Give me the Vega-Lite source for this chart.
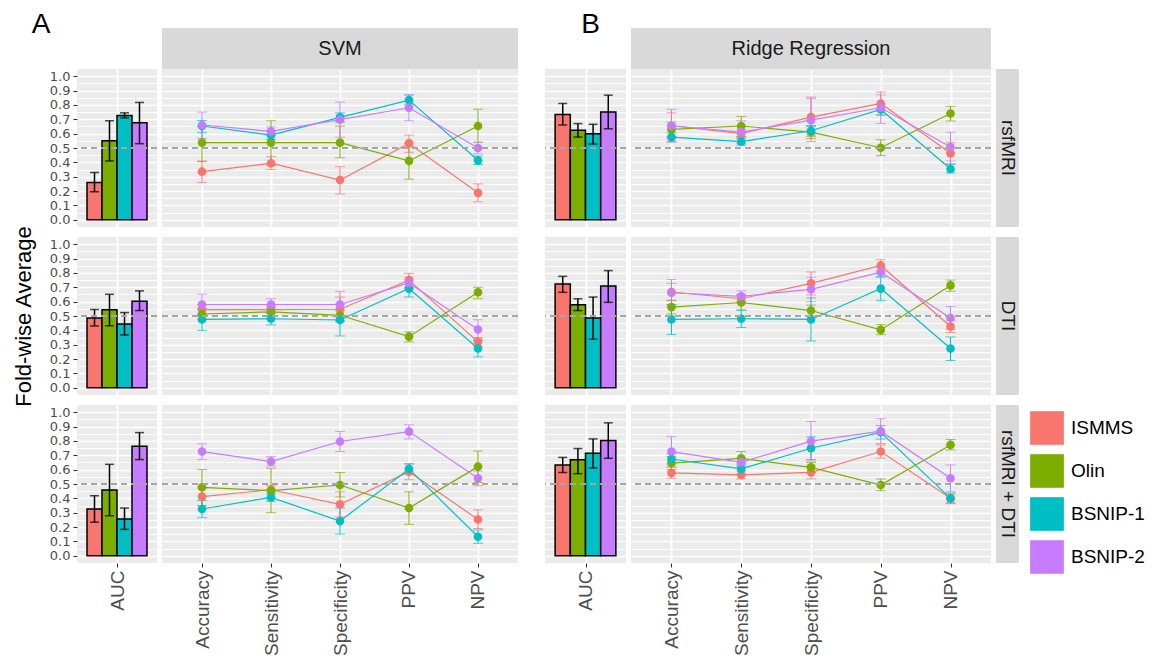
{
"$schema": "https://vega.github.io/schema/vega-lite/v6.json",
"background": "white",
"padding": {"left": 12, "top": 10, "right": 5, "bottom": 5},
"config": {
  "font": "Liberation Sans",
  "view": {"stroke": null},
  "axis": {"grid": true, "gridColor": "#ffffff", "domain": false, "tickColor": "#333333", "tickSize": 4, "tickWidth": 1.1, "labelColor": "#4d4d4d", "labelPadding": 3, "labelFont": "Liberation Sans", "titleFont": "Liberation Sans"},
  "axisY": {"labelFontSize": 13, "labelFont": "DejaVu Sans", "labelOverlap": false, "labelFlush": false, "titleFontSize": 22, "titleFontWeight": "normal", "titleColor": "#000000", "titlePadding": 14},
  "axisX": {"labelFontSize": 19, "labelAngle": 270, "labelOverlap": false, "labelFlush": false}
},
"datasets": {
"auc": [
{"m":"SVM","d":"rsfMRI","s":"ISMMS","k":"AUC","v":0.26,"lo":0.195,"hi":0.33},
{"m":"SVM","d":"rsfMRI","s":"Olin","k":"AUC","v":0.55,"lo":0.41,"hi":0.69},
{"m":"SVM","d":"rsfMRI","s":"BSNIP-1","k":"AUC","v":0.727,"lo":0.71,"hi":0.745},
{"m":"SVM","d":"rsfMRI","s":"BSNIP-2","k":"AUC","v":0.676,"lo":0.53,"hi":0.817},
{"m":"SVM","d":"DTI","s":"ISMMS","k":"AUC","v":0.486,"lo":0.43,"hi":0.545},
{"m":"SVM","d":"DTI","s":"Olin","k":"AUC","v":0.543,"lo":0.432,"hi":0.651},
{"m":"SVM","d":"DTI","s":"BSNIP-1","k":"AUC","v":0.444,"lo":0.368,"hi":0.524},
{"m":"SVM","d":"DTI","s":"BSNIP-2","k":"AUC","v":0.602,"lo":0.538,"hi":0.675},
{"m":"SVM","d":"rsfMRI + DTI","s":"ISMMS","k":"AUC","v":0.326,"lo":0.233,"hi":0.419},
{"m":"SVM","d":"rsfMRI + DTI","s":"Olin","k":"AUC","v":0.458,"lo":0.279,"hi":0.637},
{"m":"SVM","d":"rsfMRI + DTI","s":"BSNIP-1","k":"AUC","v":0.256,"lo":0.184,"hi":0.333},
{"m":"SVM","d":"rsfMRI + DTI","s":"BSNIP-2","k":"AUC","v":0.763,"lo":0.67,"hi":0.858},
{"m":"Ridge","d":"rsfMRI","s":"ISMMS","k":"AUC","v":0.734,"lo":0.66,"hi":0.81},
{"m":"Ridge","d":"rsfMRI","s":"Olin","k":"AUC","v":0.623,"lo":0.576,"hi":0.67},
{"m":"Ridge","d":"rsfMRI","s":"BSNIP-1","k":"AUC","v":0.6,"lo":0.528,"hi":0.665},
{"m":"Ridge","d":"rsfMRI","s":"BSNIP-2","k":"AUC","v":0.75,"lo":0.634,"hi":0.868},
{"m":"Ridge","d":"DTI","s":"ISMMS","k":"AUC","v":0.722,"lo":0.665,"hi":0.776},
{"m":"Ridge","d":"DTI","s":"Olin","k":"AUC","v":0.578,"lo":0.538,"hi":0.62},
{"m":"Ridge","d":"DTI","s":"BSNIP-1","k":"AUC","v":0.486,"lo":0.338,"hi":0.632},
{"m":"Ridge","d":"DTI","s":"BSNIP-2","k":"AUC","v":0.708,"lo":0.595,"hi":0.816},
{"m":"Ridge","d":"rsfMRI + DTI","s":"ISMMS","k":"AUC","v":0.633,"lo":0.58,"hi":0.685},
{"m":"Ridge","d":"rsfMRI + DTI","s":"Olin","k":"AUC","v":0.668,"lo":0.572,"hi":0.747},
{"m":"Ridge","d":"rsfMRI + DTI","s":"BSNIP-1","k":"AUC","v":0.714,"lo":0.612,"hi":0.814},
{"m":"Ridge","d":"rsfMRI + DTI","s":"BSNIP-2","k":"AUC","v":0.802,"lo":0.679,"hi":0.926}
],
"met": [
{"m":"SVM","d":"rsfMRI","s":"ISMMS","k":"Accuracy","v":0.335,"lo":0.26,"hi":0.41},
{"m":"SVM","d":"rsfMRI","s":"Olin","k":"Accuracy","v":0.537,"lo":0.405,"hi":0.65},
{"m":"SVM","d":"rsfMRI","s":"BSNIP-1","k":"Accuracy","v":0.653,"lo":0.609,"hi":0.692},
{"m":"SVM","d":"rsfMRI","s":"BSNIP-2","k":"Accuracy","v":0.66,"lo":0.567,"hi":0.75},
{"m":"SVM","d":"rsfMRI","s":"ISMMS","k":"Sensitivity","v":0.394,"lo":0.35,"hi":0.44},
{"m":"SVM","d":"rsfMRI","s":"Olin","k":"Sensitivity","v":0.537,"lo":0.38,"hi":0.69},
{"m":"SVM","d":"rsfMRI","s":"BSNIP-1","k":"Sensitivity","v":0.59,"lo":0.56,"hi":0.62},
{"m":"SVM","d":"rsfMRI","s":"BSNIP-2","k":"Sensitivity","v":0.616,"lo":0.585,"hi":0.647},
{"m":"SVM","d":"rsfMRI","s":"ISMMS","k":"Specificity","v":0.277,"lo":0.18,"hi":0.37},
{"m":"SVM","d":"rsfMRI","s":"Olin","k":"Specificity","v":0.537,"lo":0.432,"hi":0.652},
{"m":"SVM","d":"rsfMRI","s":"BSNIP-1","k":"Specificity","v":0.713,"lo":0.68,"hi":0.745},
{"m":"SVM","d":"rsfMRI","s":"BSNIP-2","k":"Specificity","v":0.697,"lo":0.575,"hi":0.82},
{"m":"SVM","d":"rsfMRI","s":"ISMMS","k":"PPV","v":0.532,"lo":0.47,"hi":0.59},
{"m":"SVM","d":"rsfMRI","s":"Olin","k":"PPV","v":0.41,"lo":0.283,"hi":0.535},
{"m":"SVM","d":"rsfMRI","s":"BSNIP-1","k":"PPV","v":0.833,"lo":0.8,"hi":0.87},
{"m":"SVM","d":"rsfMRI","s":"BSNIP-2","k":"PPV","v":0.78,"lo":0.69,"hi":0.87},
{"m":"SVM","d":"rsfMRI","s":"ISMMS","k":"NPV","v":0.188,"lo":0.125,"hi":0.25},
{"m":"SVM","d":"rsfMRI","s":"Olin","k":"NPV","v":0.653,"lo":0.54,"hi":0.77},
{"m":"SVM","d":"rsfMRI","s":"BSNIP-1","k":"NPV","v":0.415,"lo":0.385,"hi":0.445},
{"m":"SVM","d":"rsfMRI","s":"BSNIP-2","k":"NPV","v":0.5,"lo":0.46,"hi":0.54},
{"m":"SVM","d":"DTI","s":"ISMMS","k":"Accuracy","v":0.545,"lo":0.51,"hi":0.58},
{"m":"SVM","d":"DTI","s":"Olin","k":"Accuracy","v":0.514,"lo":0.48,"hi":0.55},
{"m":"SVM","d":"DTI","s":"BSNIP-1","k":"Accuracy","v":0.476,"lo":0.4,"hi":0.55},
{"m":"SVM","d":"DTI","s":"BSNIP-2","k":"Accuracy","v":0.58,"lo":0.51,"hi":0.652},
{"m":"SVM","d":"DTI","s":"ISMMS","k":"Sensitivity","v":0.545,"lo":0.52,"hi":0.57},
{"m":"SVM","d":"DTI","s":"Olin","k":"Sensitivity","v":0.529,"lo":0.5,"hi":0.56},
{"m":"SVM","d":"DTI","s":"BSNIP-1","k":"Sensitivity","v":0.481,"lo":0.438,"hi":0.52},
{"m":"SVM","d":"DTI","s":"BSNIP-2","k":"Sensitivity","v":0.58,"lo":0.54,"hi":0.62},
{"m":"SVM","d":"DTI","s":"ISMMS","k":"Specificity","v":0.547,"lo":0.46,"hi":0.632},
{"m":"SVM","d":"DTI","s":"Olin","k":"Specificity","v":0.505,"lo":0.47,"hi":0.54},
{"m":"SVM","d":"DTI","s":"BSNIP-1","k":"Specificity","v":0.472,"lo":0.361,"hi":0.583},
{"m":"SVM","d":"DTI","s":"BSNIP-2","k":"Specificity","v":0.58,"lo":0.49,"hi":0.672},
{"m":"SVM","d":"DTI","s":"ISMMS","k":"PPV","v":0.75,"lo":0.7,"hi":0.797},
{"m":"SVM","d":"DTI","s":"Olin","k":"PPV","v":0.356,"lo":0.32,"hi":0.39},
{"m":"SVM","d":"DTI","s":"BSNIP-1","k":"PPV","v":0.691,"lo":0.632,"hi":0.75},
{"m":"SVM","d":"DTI","s":"BSNIP-2","k":"PPV","v":0.73,"lo":0.69,"hi":0.77},
{"m":"SVM","d":"DTI","s":"ISMMS","k":"NPV","v":0.32,"lo":0.29,"hi":0.35},
{"m":"SVM","d":"DTI","s":"Olin","k":"NPV","v":0.665,"lo":0.62,"hi":0.7},
{"m":"SVM","d":"DTI","s":"BSNIP-1","k":"NPV","v":0.274,"lo":0.215,"hi":0.33},
{"m":"SVM","d":"DTI","s":"BSNIP-2","k":"NPV","v":0.406,"lo":0.34,"hi":0.474},
{"m":"SVM","d":"rsfMRI + DTI","s":"ISMMS","k":"Accuracy","v":0.412,"lo":0.35,"hi":0.47},
{"m":"SVM","d":"rsfMRI + DTI","s":"Olin","k":"Accuracy","v":0.477,"lo":0.349,"hi":0.6},
{"m":"SVM","d":"rsfMRI + DTI","s":"BSNIP-1","k":"Accuracy","v":0.326,"lo":0.265,"hi":0.385},
{"m":"SVM","d":"rsfMRI + DTI","s":"BSNIP-2","k":"Accuracy","v":0.726,"lo":0.67,"hi":0.78},
{"m":"SVM","d":"rsfMRI + DTI","s":"ISMMS","k":"Sensitivity","v":0.46,"lo":0.43,"hi":0.49},
{"m":"SVM","d":"rsfMRI + DTI","s":"Olin","k":"Sensitivity","v":0.454,"lo":0.3,"hi":0.61},
{"m":"SVM","d":"rsfMRI + DTI","s":"BSNIP-1","k":"Sensitivity","v":0.407,"lo":0.38,"hi":0.44},
{"m":"SVM","d":"rsfMRI + DTI","s":"BSNIP-2","k":"Sensitivity","v":0.656,"lo":0.625,"hi":0.69},
{"m":"SVM","d":"rsfMRI + DTI","s":"ISMMS","k":"Specificity","v":0.358,"lo":0.27,"hi":0.446},
{"m":"SVM","d":"rsfMRI + DTI","s":"Olin","k":"Specificity","v":0.493,"lo":0.41,"hi":0.58},
{"m":"SVM","d":"rsfMRI + DTI","s":"BSNIP-1","k":"Specificity","v":0.242,"lo":0.151,"hi":0.333},
{"m":"SVM","d":"rsfMRI + DTI","s":"BSNIP-2","k":"Specificity","v":0.796,"lo":0.726,"hi":0.866},
{"m":"SVM","d":"rsfMRI + DTI","s":"ISMMS","k":"PPV","v":0.586,"lo":0.53,"hi":0.64},
{"m":"SVM","d":"rsfMRI + DTI","s":"Olin","k":"PPV","v":0.333,"lo":0.219,"hi":0.446},
{"m":"SVM","d":"rsfMRI + DTI","s":"BSNIP-1","k":"PPV","v":0.605,"lo":0.57,"hi":0.64},
{"m":"SVM","d":"rsfMRI + DTI","s":"BSNIP-2","k":"PPV","v":0.865,"lo":0.814,"hi":0.912},
{"m":"SVM","d":"rsfMRI + DTI","s":"ISMMS","k":"NPV","v":0.253,"lo":0.19,"hi":0.32},
{"m":"SVM","d":"rsfMRI + DTI","s":"Olin","k":"NPV","v":0.621,"lo":0.51,"hi":0.73},
{"m":"SVM","d":"rsfMRI + DTI","s":"BSNIP-1","k":"NPV","v":0.133,"lo":0.087,"hi":0.18},
{"m":"SVM","d":"rsfMRI + DTI","s":"BSNIP-2","k":"NPV","v":0.54,"lo":0.488,"hi":0.59},
{"m":"Ridge","d":"rsfMRI","s":"ISMMS","k":"Accuracy","v":0.655,"lo":0.565,"hi":0.745},
{"m":"Ridge","d":"rsfMRI","s":"Olin","k":"Accuracy","v":0.63,"lo":0.58,"hi":0.68},
{"m":"Ridge","d":"rsfMRI","s":"BSNIP-1","k":"Accuracy","v":0.576,"lo":0.545,"hi":0.606},
{"m":"Ridge","d":"rsfMRI","s":"BSNIP-2","k":"Accuracy","v":0.655,"lo":0.54,"hi":0.77},
{"m":"Ridge","d":"rsfMRI","s":"ISMMS","k":"Sensitivity","v":0.6,"lo":0.57,"hi":0.63},
{"m":"Ridge","d":"rsfMRI","s":"Olin","k":"Sensitivity","v":0.653,"lo":0.58,"hi":0.72},
{"m":"Ridge","d":"rsfMRI","s":"BSNIP-1","k":"Sensitivity","v":0.544,"lo":0.52,"hi":0.57},
{"m":"Ridge","d":"rsfMRI","s":"BSNIP-2","k":"Sensitivity","v":0.61,"lo":0.53,"hi":0.69},
{"m":"Ridge","d":"rsfMRI","s":"ISMMS","k":"Specificity","v":0.715,"lo":0.58,"hi":0.855},
{"m":"Ridge","d":"rsfMRI","s":"Olin","k":"Specificity","v":0.611,"lo":0.565,"hi":0.657},
{"m":"Ridge","d":"rsfMRI","s":"BSNIP-1","k":"Specificity","v":0.62,"lo":0.59,"hi":0.65},
{"m":"Ridge","d":"rsfMRI","s":"BSNIP-2","k":"Specificity","v":0.694,"lo":0.545,"hi":0.845},
{"m":"Ridge","d":"rsfMRI","s":"ISMMS","k":"PPV","v":0.81,"lo":0.73,"hi":0.89},
{"m":"Ridge","d":"rsfMRI","s":"Olin","k":"PPV","v":0.502,"lo":0.447,"hi":0.557},
{"m":"Ridge","d":"rsfMRI","s":"BSNIP-1","k":"PPV","v":0.768,"lo":0.73,"hi":0.805},
{"m":"Ridge","d":"rsfMRI","s":"BSNIP-2","k":"PPV","v":0.78,"lo":0.671,"hi":0.87},
{"m":"Ridge","d":"rsfMRI","s":"ISMMS","k":"NPV","v":0.463,"lo":0.39,"hi":0.54},
{"m":"Ridge","d":"rsfMRI","s":"Olin","k":"NPV","v":0.74,"lo":0.688,"hi":0.79},
{"m":"Ridge","d":"rsfMRI","s":"BSNIP-1","k":"NPV","v":0.354,"lo":0.326,"hi":0.387},
{"m":"Ridge","d":"rsfMRI","s":"BSNIP-2","k":"NPV","v":0.507,"lo":0.41,"hi":0.61},
{"m":"Ridge","d":"DTI","s":"ISMMS","k":"Accuracy","v":0.667,"lo":0.607,"hi":0.727},
{"m":"Ridge","d":"DTI","s":"Olin","k":"Accuracy","v":0.562,"lo":0.515,"hi":0.61},
{"m":"Ridge","d":"DTI","s":"BSNIP-1","k":"Accuracy","v":0.476,"lo":0.372,"hi":0.58},
{"m":"Ridge","d":"DTI","s":"BSNIP-2","k":"Accuracy","v":0.662,"lo":0.57,"hi":0.754},
{"m":"Ridge","d":"DTI","s":"ISMMS","k":"Sensitivity","v":0.62,"lo":0.59,"hi":0.65},
{"m":"Ridge","d":"DTI","s":"Olin","k":"Sensitivity","v":0.594,"lo":0.542,"hi":0.646},
{"m":"Ridge","d":"DTI","s":"BSNIP-1","k":"Sensitivity","v":0.481,"lo":0.42,"hi":0.54},
{"m":"Ridge","d":"DTI","s":"BSNIP-2","k":"Sensitivity","v":0.637,"lo":0.6,"hi":0.675},
{"m":"Ridge","d":"DTI","s":"ISMMS","k":"Specificity","v":0.727,"lo":0.647,"hi":0.807},
{"m":"Ridge","d":"DTI","s":"Olin","k":"Specificity","v":0.538,"lo":0.5,"hi":0.576},
{"m":"Ridge","d":"DTI","s":"BSNIP-1","k":"Specificity","v":0.476,"lo":0.326,"hi":0.626},
{"m":"Ridge","d":"DTI","s":"BSNIP-2","k":"Specificity","v":0.686,"lo":0.6,"hi":0.77},
{"m":"Ridge","d":"DTI","s":"ISMMS","k":"PPV","v":0.852,"lo":0.812,"hi":0.892},
{"m":"Ridge","d":"DTI","s":"Olin","k":"PPV","v":0.403,"lo":0.37,"hi":0.44},
{"m":"Ridge","d":"DTI","s":"BSNIP-1","k":"PPV","v":0.691,"lo":0.609,"hi":0.773},
{"m":"Ridge","d":"DTI","s":"BSNIP-2","k":"PPV","v":0.805,"lo":0.77,"hi":0.84},
{"m":"Ridge","d":"DTI","s":"ISMMS","k":"NPV","v":0.427,"lo":0.385,"hi":0.47},
{"m":"Ridge","d":"DTI","s":"Olin","k":"NPV","v":0.713,"lo":0.672,"hi":0.75},
{"m":"Ridge","d":"DTI","s":"BSNIP-1","k":"NPV","v":0.274,"lo":0.19,"hi":0.354},
{"m":"Ridge","d":"DTI","s":"BSNIP-2","k":"NPV","v":0.486,"lo":0.406,"hi":0.566},
{"m":"Ridge","d":"rsfMRI + DTI","s":"ISMMS","k":"Accuracy","v":0.577,"lo":0.54,"hi":0.617},
{"m":"Ridge","d":"rsfMRI + DTI","s":"Olin","k":"Accuracy","v":0.646,"lo":0.6,"hi":0.69},
{"m":"Ridge","d":"rsfMRI + DTI","s":"BSNIP-1","k":"Accuracy","v":0.674,"lo":0.64,"hi":0.71},
{"m":"Ridge","d":"rsfMRI + DTI","s":"BSNIP-2","k":"Accuracy","v":0.726,"lo":0.62,"hi":0.83},
{"m":"Ridge","d":"rsfMRI + DTI","s":"ISMMS","k":"Sensitivity","v":0.563,"lo":0.535,"hi":0.59},
{"m":"Ridge","d":"rsfMRI + DTI","s":"Olin","k":"Sensitivity","v":0.678,"lo":0.63,"hi":0.726},
{"m":"Ridge","d":"rsfMRI + DTI","s":"BSNIP-1","k":"Sensitivity","v":0.605,"lo":0.57,"hi":0.64},
{"m":"Ridge","d":"rsfMRI + DTI","s":"BSNIP-2","k":"Sensitivity","v":0.651,"lo":0.62,"hi":0.68},
{"m":"Ridge","d":"rsfMRI + DTI","s":"ISMMS","k":"Specificity","v":0.581,"lo":0.535,"hi":0.627},
{"m":"Ridge","d":"rsfMRI + DTI","s":"Olin","k":"Specificity","v":0.616,"lo":0.58,"hi":0.65},
{"m":"Ridge","d":"rsfMRI + DTI","s":"BSNIP-1","k":"Specificity","v":0.749,"lo":0.67,"hi":0.828},
{"m":"Ridge","d":"rsfMRI + DTI","s":"BSNIP-2","k":"Specificity","v":0.798,"lo":0.66,"hi":0.935},
{"m":"Ridge","d":"rsfMRI + DTI","s":"ISMMS","k":"PPV","v":0.726,"lo":0.68,"hi":0.772},
{"m":"Ridge","d":"rsfMRI + DTI","s":"Olin","k":"PPV","v":0.493,"lo":0.453,"hi":0.535},
{"m":"Ridge","d":"rsfMRI + DTI","s":"BSNIP-1","k":"PPV","v":0.86,"lo":0.813,"hi":0.907},
{"m":"Ridge","d":"rsfMRI + DTI","s":"BSNIP-2","k":"PPV","v":0.868,"lo":0.782,"hi":0.954},
{"m":"Ridge","d":"rsfMRI + DTI","s":"ISMMS","k":"NPV","v":0.4,"lo":0.37,"hi":0.43},
{"m":"Ridge","d":"rsfMRI + DTI","s":"Olin","k":"NPV","v":0.772,"lo":0.737,"hi":0.81},
{"m":"Ridge","d":"rsfMRI + DTI","s":"BSNIP-1","k":"NPV","v":0.4,"lo":0.363,"hi":0.437},
{"m":"Ridge","d":"rsfMRI + DTI","s":"BSNIP-2","k":"NPV","v":0.54,"lo":0.447,"hi":0.633}
]
},
"columns": 6,
"spacing": {"row": 0, "column": 5},
"bounds": "flush",
"align": "each",
"concat": [
 {"width": 80, "height": 41, "data": {"values": [{"t": "A"}]}, "mark": {"type": "text", "fontSize": 28, "color": "#000000", "dx": -76, "dy": -24}, "encoding": {"text": {"field": "t"}}},
 {"width": 356, "height": 41, "view": {"fill": "#d9d9d9", "stroke": null}, "data": {"values": [{"t": "SVM"}]}, "mark": {"type": "text", "fontSize": 20, "color": "#1a1a1a"}, "encoding": {"text": {"field": "t"}}},
 {"width": 17, "height": 1, "data": {"values": [{}]}, "mark": {"type": "point", "opacity": 0}, "encoding": {}},
 {"width": 81, "height": 41, "data": {"values": [{"t": "B"}]}, "mark": {"type": "text", "fontSize": 28, "color": "#000000", "dx": 5, "dy": -24}, "encoding": {"text": {"field": "t"}}},
 {"width": 360, "height": 41, "view": {"fill": "#d9d9d9", "stroke": null}, "data": {"values": [{"t": "Ridge Regression"}]}, "mark": {"type": "text", "fontSize": 20, "color": "#1a1a1a"}, "encoding": {"text": {"field": "t"}}},
 {"width": 23, "height": 1, "data": {"values": [{}]}, "mark": {"type": "point", "opacity": 0}, "encoding": {}},

 {"width": 80, "height": 158, "view": {"fill": "#ebebeb", "stroke": null}, "data": {"name": "auc"},
  "transform": [{"filter": "datum.m==='SVM' && datum.d==='rsfMRI'"}],
  "layer": [
   {"mark": {"type": "rule", "opacity": 0}, "encoding": {"x": {"field": "k", "type": "nominal", "scale": {"type": "point", "padding": 0.5}, "axis": {"title": null, "labels": false, "ticks": false, "gridWidth": 1.8}}}},
   {"layer": [
     {"mark": {"type": "bar", "stroke": "black", "strokeWidth": 1.5},
      "encoding": {"x": {"field": "s", "type": "nominal", "sort": ["ISMMS","Olin","BSNIP-1","BSNIP-2"], "scale": {"type": "band", "paddingInner": 0, "paddingOuter": 0.667}, "axis": null},
        "y": {"field": "v", "type": "quantitative", "scale": {"domain": [-0.05, 1.05], "nice": false, "zero": false}, "axis": {"values": [0,0.05,0.1,0.15,0.2,0.25,0.3,0.35,0.4,0.45,0.5,0.55,0.6,0.65,0.7,0.75,0.8,0.85,0.9,0.95,1], "tickCount": 22, "labelOverlap": false, "labelExpr": "round(datum.value*100) % 10 === 0 && datum.value > -0.01 && datum.value < 1.01 ? format(datum.value, '.1f') : ''", "tickOpacity": {"condition": {"test": "round(datum.value*100) % 10 === 0 && datum.value > -0.01 && datum.value < 1.01", "value": 1}, "value": 0}, "gridOpacity": {"condition": {"test": "datum.value < -0.01 || datum.value > 1.01", "value": 0}, "value": 1}, "gridWidth": {"condition": {"test": "round(datum.value*100) % 10 === 0", "value": 1.6}, "value": 1}, "title": null}},
        "color": {"field": "s", "type": "nominal", "scale": {"domain": ["ISMMS","Olin","BSNIP-1","BSNIP-2"], "range": ["#F8766D","#7CAE00","#00BFC4","#C77CFF"]},
          "legend": {"title": null, "orient": "none", "legendX": 953, "legendY": 383, "symbolType": "square", "symbolSize": 1050, "symbolStrokeColor": "black", "symbolStrokeWidth": 1.3, "symbolOpacity": 1, "labelFontSize": 19, "labelColor": "#000000", "labelFont": "Liberation Sans", "rowPadding": 5, "labelOffset": 7, "padding": 0}}}},
     {"mark": {"type": "rule", "color": "black", "strokeWidth": 1.5}, "encoding": {"x": {"field": "s", "type": "nominal", "sort": ["ISMMS","Olin","BSNIP-1","BSNIP-2"]}, "y": {"field": "lo", "type": "quantitative", "axis": {"values": [0,0.05,0.1,0.15,0.2,0.25,0.3,0.35,0.4,0.45,0.5,0.55,0.6,0.65,0.7,0.75,0.8,0.85,0.9,0.95,1], "tickCount": 22, "labelOverlap": false, "labelExpr": "round(datum.value*100) % 10 === 0 && datum.value > -0.01 && datum.value < 1.01 ? format(datum.value, '.1f') : ''", "tickOpacity": {"condition": {"test": "round(datum.value*100) % 10 === 0 && datum.value > -0.01 && datum.value < 1.01", "value": 1}, "value": 0}, "gridOpacity": {"condition": {"test": "datum.value < -0.01 || datum.value > 1.01", "value": 0}, "value": 1}, "gridWidth": {"condition": {"test": "round(datum.value*100) % 10 === 0", "value": 1.6}, "value": 1}, "title": null}}, "y2": {"field": "hi"}}},
     {"mark": {"type": "tick", "color": "black", "thickness": 1.5, "size": 9}, "encoding": {"x": {"field": "s", "type": "nominal", "sort": ["ISMMS","Olin","BSNIP-1","BSNIP-2"]}, "y": {"field": "lo", "type": "quantitative", "axis": {"values": [0,0.05,0.1,0.15,0.2,0.25,0.3,0.35,0.4,0.45,0.5,0.55,0.6,0.65,0.7,0.75,0.8,0.85,0.9,0.95,1], "tickCount": 22, "labelOverlap": false, "labelExpr": "round(datum.value*100) % 10 === 0 && datum.value > -0.01 && datum.value < 1.01 ? format(datum.value, '.1f') : ''", "tickOpacity": {"condition": {"test": "round(datum.value*100) % 10 === 0 && datum.value > -0.01 && datum.value < 1.01", "value": 1}, "value": 0}, "gridOpacity": {"condition": {"test": "datum.value < -0.01 || datum.value > 1.01", "value": 0}, "value": 1}, "gridWidth": {"condition": {"test": "round(datum.value*100) % 10 === 0", "value": 1.6}, "value": 1}, "title": null}}}},
     {"mark": {"type": "tick", "color": "black", "thickness": 1.5, "size": 9}, "encoding": {"x": {"field": "s", "type": "nominal", "sort": ["ISMMS","Olin","BSNIP-1","BSNIP-2"]}, "y": {"field": "hi", "type": "quantitative", "axis": {"values": [0,0.05,0.1,0.15,0.2,0.25,0.3,0.35,0.4,0.45,0.5,0.55,0.6,0.65,0.7,0.75,0.8,0.85,0.9,0.95,1], "tickCount": 22, "labelOverlap": false, "labelExpr": "round(datum.value*100) % 10 === 0 && datum.value > -0.01 && datum.value < 1.01 ? format(datum.value, '.1f') : ''", "tickOpacity": {"condition": {"test": "round(datum.value*100) % 10 === 0 && datum.value > -0.01 && datum.value < 1.01", "value": 1}, "value": 0}, "gridOpacity": {"condition": {"test": "datum.value < -0.01 || datum.value > 1.01", "value": 0}, "value": 1}, "gridWidth": {"condition": {"test": "round(datum.value*100) % 10 === 0", "value": 1.6}, "value": 1}, "title": null}}}}
   ]},
   {"mark": {"type": "rule", "strokeDash": [6, 4], "color": "#a6a6a6", "strokeWidth": 1.8}, "encoding": {"y": {"datum": 0.5, "axis": {"values": [0,0.05,0.1,0.15,0.2,0.25,0.3,0.35,0.4,0.45,0.5,0.55,0.6,0.65,0.7,0.75,0.8,0.85,0.9,0.95,1], "tickCount": 22, "labelOverlap": false, "labelExpr": "round(datum.value*100) % 10 === 0 && datum.value > -0.01 && datum.value < 1.01 ? format(datum.value, '.1f') : ''", "tickOpacity": {"condition": {"test": "round(datum.value*100) % 10 === 0 && datum.value > -0.01 && datum.value < 1.01", "value": 1}, "value": 0}, "gridOpacity": {"condition": {"test": "datum.value < -0.01 || datum.value > 1.01", "value": 0}, "value": 1}, "gridWidth": {"condition": {"test": "round(datum.value*100) % 10 === 0", "value": 1.6}, "value": 1}, "title": null}}}}
  ],
  "resolve": {"scale": {"x": "independent"}}},
 {"width": 356, "height": 158, "view": {"fill": "#ebebeb", "stroke": null}, "data": {"name": "met"},
  "transform": [{"filter": "datum.m==='SVM' && datum.d==='rsfMRI'"}],
  "layer": [
   {"mark": {"type": "line", "strokeWidth": 1.2},
    "encoding": {"x": {"field": "k", "type": "nominal", "sort": ["Accuracy","Sensitivity","Specificity","PPV","NPV"], "scale": {"type": "point", "padding": 0.58}, "axis": {"title": null, "labels": false, "ticks": false, "gridWidth": 1.8}},
      "y": {"field": "v", "type": "quantitative", "scale": {"domain": [-0.05, 1.05], "nice": false, "zero": false}, "axis": {"values": [0,0.05,0.1,0.15,0.2,0.25,0.3,0.35,0.4,0.45,0.5,0.55,0.6,0.65,0.7,0.75,0.8,0.85,0.9,0.95,1], "tickCount": 22, "labels": false, "ticks": false, "gridOpacity": {"condition": {"test": "datum.value < -0.01 || datum.value > 1.01", "value": 0}, "value": 1}, "gridWidth": {"condition": {"test": "round(datum.value*100) % 10 === 0", "value": 1.6}, "value": 1}, "title": null}},
      "color": {"field": "s", "type": "nominal", "legend": null}}},
   {"mark": {"type": "rule", "strokeWidth": 1}, "encoding": {"x": {"field": "k", "type": "nominal", "sort": ["Accuracy","Sensitivity","Specificity","PPV","NPV"]}, "y": {"field": "lo", "type": "quantitative", "axis": {"values": [0,0.05,0.1,0.15,0.2,0.25,0.3,0.35,0.4,0.45,0.5,0.55,0.6,0.65,0.7,0.75,0.8,0.85,0.9,0.95,1], "tickCount": 22, "labels": false, "ticks": false, "gridOpacity": {"condition": {"test": "datum.value < -0.01 || datum.value > 1.01", "value": 0}, "value": 1}, "gridWidth": {"condition": {"test": "round(datum.value*100) % 10 === 0", "value": 1.6}, "value": 1}, "title": null}}, "y2": {"field": "hi"}, "color": {"field": "s", "type": "nominal", "legend": null}}},
   {"mark": {"type": "tick", "size": 10, "thickness": 1}, "encoding": {"x": {"field": "k", "type": "nominal", "sort": ["Accuracy","Sensitivity","Specificity","PPV","NPV"]}, "y": {"field": "lo", "type": "quantitative", "axis": {"values": [0,0.05,0.1,0.15,0.2,0.25,0.3,0.35,0.4,0.45,0.5,0.55,0.6,0.65,0.7,0.75,0.8,0.85,0.9,0.95,1], "tickCount": 22, "labels": false, "ticks": false, "gridOpacity": {"condition": {"test": "datum.value < -0.01 || datum.value > 1.01", "value": 0}, "value": 1}, "gridWidth": {"condition": {"test": "round(datum.value*100) % 10 === 0", "value": 1.6}, "value": 1}, "title": null}}, "color": {"field": "s", "type": "nominal", "legend": null}}},
   {"mark": {"type": "tick", "size": 10, "thickness": 1}, "encoding": {"x": {"field": "k", "type": "nominal", "sort": ["Accuracy","Sensitivity","Specificity","PPV","NPV"]}, "y": {"field": "hi", "type": "quantitative", "axis": {"values": [0,0.05,0.1,0.15,0.2,0.25,0.3,0.35,0.4,0.45,0.5,0.55,0.6,0.65,0.7,0.75,0.8,0.85,0.9,0.95,1], "tickCount": 22, "labels": false, "ticks": false, "gridOpacity": {"condition": {"test": "datum.value < -0.01 || datum.value > 1.01", "value": 0}, "value": 1}, "gridWidth": {"condition": {"test": "round(datum.value*100) % 10 === 0", "value": 1.6}, "value": 1}, "title": null}}, "color": {"field": "s", "type": "nominal", "legend": null}}},
   {"mark": {"type": "point", "filled": true, "size": 75, "opacity": 1}, "encoding": {"x": {"field": "k", "type": "nominal", "sort": ["Accuracy","Sensitivity","Specificity","PPV","NPV"]}, "y": {"field": "v", "type": "quantitative", "axis": {"values": [0,0.05,0.1,0.15,0.2,0.25,0.3,0.35,0.4,0.45,0.5,0.55,0.6,0.65,0.7,0.75,0.8,0.85,0.9,0.95,1], "tickCount": 22, "labels": false, "ticks": false, "gridOpacity": {"condition": {"test": "datum.value < -0.01 || datum.value > 1.01", "value": 0}, "value": 1}, "gridWidth": {"condition": {"test": "round(datum.value*100) % 10 === 0", "value": 1.6}, "value": 1}, "title": null}}, "color": {"field": "s", "type": "nominal", "legend": null}}},
   {"mark": {"type": "rule", "strokeDash": [6, 4], "color": "#a6a6a6", "strokeWidth": 1.8}, "encoding": {"y": {"datum": 0.5, "axis": {"values": [0,0.05,0.1,0.15,0.2,0.25,0.3,0.35,0.4,0.45,0.5,0.55,0.6,0.65,0.7,0.75,0.8,0.85,0.9,0.95,1], "tickCount": 22, "labels": false, "ticks": false, "gridOpacity": {"condition": {"test": "datum.value < -0.01 || datum.value > 1.01", "value": 0}, "value": 1}, "gridWidth": {"condition": {"test": "round(datum.value*100) % 10 === 0", "value": 1.6}, "value": 1}, "title": null}}}}
  ]},
 {"width": 17, "height": 1, "data": {"values": [{}]}, "mark": {"type": "point", "opacity": 0}, "encoding": {}},
 {"width": 81, "height": 158, "view": {"fill": "#ebebeb", "stroke": null}, "data": {"name": "auc"},
  "transform": [{"filter": "datum.m==='Ridge' && datum.d==='rsfMRI'"}],
  "layer": [
   {"mark": {"type": "rule", "opacity": 0}, "encoding": {"x": {"field": "k", "type": "nominal", "scale": {"type": "point", "padding": 0.5}, "axis": {"title": null, "labels": false, "ticks": false, "gridWidth": 1.8}}}},
   {"layer": [
     {"mark": {"type": "bar", "stroke": "black", "strokeWidth": 1.5},
      "encoding": {"x": {"field": "s", "type": "nominal", "sort": ["ISMMS","Olin","BSNIP-1","BSNIP-2"], "scale": {"type": "band", "paddingInner": 0, "paddingOuter": 0.667}, "axis": null},
        "y": {"field": "v", "type": "quantitative", "scale": {"domain": [-0.05, 1.05], "nice": false, "zero": false}, "axis": {"values": [0,0.05,0.1,0.15,0.2,0.25,0.3,0.35,0.4,0.45,0.5,0.55,0.6,0.65,0.7,0.75,0.8,0.85,0.9,0.95,1], "tickCount": 22, "labels": false, "ticks": false, "gridOpacity": {"condition": {"test": "datum.value < -0.01 || datum.value > 1.01", "value": 0}, "value": 1}, "gridWidth": {"condition": {"test": "round(datum.value*100) % 10 === 0", "value": 1.6}, "value": 1}, "title": null}},
        "color": {"field": "s", "type": "nominal", "legend": null}}},
     {"mark": {"type": "rule", "color": "black", "strokeWidth": 1.5}, "encoding": {"x": {"field": "s", "type": "nominal", "sort": ["ISMMS","Olin","BSNIP-1","BSNIP-2"]}, "y": {"field": "lo", "type": "quantitative", "axis": {"values": [0,0.05,0.1,0.15,0.2,0.25,0.3,0.35,0.4,0.45,0.5,0.55,0.6,0.65,0.7,0.75,0.8,0.85,0.9,0.95,1], "tickCount": 22, "labels": false, "ticks": false, "gridOpacity": {"condition": {"test": "datum.value < -0.01 || datum.value > 1.01", "value": 0}, "value": 1}, "gridWidth": {"condition": {"test": "round(datum.value*100) % 10 === 0", "value": 1.6}, "value": 1}, "title": null}}, "y2": {"field": "hi"}}},
     {"mark": {"type": "tick", "color": "black", "thickness": 1.5, "size": 9}, "encoding": {"x": {"field": "s", "type": "nominal", "sort": ["ISMMS","Olin","BSNIP-1","BSNIP-2"]}, "y": {"field": "lo", "type": "quantitative", "axis": {"values": [0,0.05,0.1,0.15,0.2,0.25,0.3,0.35,0.4,0.45,0.5,0.55,0.6,0.65,0.7,0.75,0.8,0.85,0.9,0.95,1], "tickCount": 22, "labels": false, "ticks": false, "gridOpacity": {"condition": {"test": "datum.value < -0.01 || datum.value > 1.01", "value": 0}, "value": 1}, "gridWidth": {"condition": {"test": "round(datum.value*100) % 10 === 0", "value": 1.6}, "value": 1}, "title": null}}}},
     {"mark": {"type": "tick", "color": "black", "thickness": 1.5, "size": 9}, "encoding": {"x": {"field": "s", "type": "nominal", "sort": ["ISMMS","Olin","BSNIP-1","BSNIP-2"]}, "y": {"field": "hi", "type": "quantitative", "axis": {"values": [0,0.05,0.1,0.15,0.2,0.25,0.3,0.35,0.4,0.45,0.5,0.55,0.6,0.65,0.7,0.75,0.8,0.85,0.9,0.95,1], "tickCount": 22, "labels": false, "ticks": false, "gridOpacity": {"condition": {"test": "datum.value < -0.01 || datum.value > 1.01", "value": 0}, "value": 1}, "gridWidth": {"condition": {"test": "round(datum.value*100) % 10 === 0", "value": 1.6}, "value": 1}, "title": null}}}}
   ]},
   {"mark": {"type": "rule", "strokeDash": [6, 4], "color": "#a6a6a6", "strokeWidth": 1.8}, "encoding": {"y": {"datum": 0.5, "axis": {"values": [0,0.05,0.1,0.15,0.2,0.25,0.3,0.35,0.4,0.45,0.5,0.55,0.6,0.65,0.7,0.75,0.8,0.85,0.9,0.95,1], "tickCount": 22, "labels": false, "ticks": false, "gridOpacity": {"condition": {"test": "datum.value < -0.01 || datum.value > 1.01", "value": 0}, "value": 1}, "gridWidth": {"condition": {"test": "round(datum.value*100) % 10 === 0", "value": 1.6}, "value": 1}, "title": null}}}}
  ],
  "resolve": {"scale": {"x": "independent"}}},
 {"width": 360, "height": 158, "view": {"fill": "#ebebeb", "stroke": null}, "data": {"name": "met"},
  "transform": [{"filter": "datum.m==='Ridge' && datum.d==='rsfMRI'"}],
  "layer": [
   {"mark": {"type": "line", "strokeWidth": 1.2},
    "encoding": {"x": {"field": "k", "type": "nominal", "sort": ["Accuracy","Sensitivity","Specificity","PPV","NPV"], "scale": {"type": "point", "padding": 0.58}, "axis": {"title": null, "labels": false, "ticks": false, "gridWidth": 1.8}},
      "y": {"field": "v", "type": "quantitative", "scale": {"domain": [-0.05, 1.05], "nice": false, "zero": false}, "axis": {"values": [0,0.05,0.1,0.15,0.2,0.25,0.3,0.35,0.4,0.45,0.5,0.55,0.6,0.65,0.7,0.75,0.8,0.85,0.9,0.95,1], "tickCount": 22, "labels": false, "ticks": false, "gridOpacity": {"condition": {"test": "datum.value < -0.01 || datum.value > 1.01", "value": 0}, "value": 1}, "gridWidth": {"condition": {"test": "round(datum.value*100) % 10 === 0", "value": 1.6}, "value": 1}, "title": null}},
      "color": {"field": "s", "type": "nominal", "legend": null}}},
   {"mark": {"type": "rule", "strokeWidth": 1}, "encoding": {"x": {"field": "k", "type": "nominal", "sort": ["Accuracy","Sensitivity","Specificity","PPV","NPV"]}, "y": {"field": "lo", "type": "quantitative", "axis": {"values": [0,0.05,0.1,0.15,0.2,0.25,0.3,0.35,0.4,0.45,0.5,0.55,0.6,0.65,0.7,0.75,0.8,0.85,0.9,0.95,1], "tickCount": 22, "labels": false, "ticks": false, "gridOpacity": {"condition": {"test": "datum.value < -0.01 || datum.value > 1.01", "value": 0}, "value": 1}, "gridWidth": {"condition": {"test": "round(datum.value*100) % 10 === 0", "value": 1.6}, "value": 1}, "title": null}}, "y2": {"field": "hi"}, "color": {"field": "s", "type": "nominal", "legend": null}}},
   {"mark": {"type": "tick", "size": 10, "thickness": 1}, "encoding": {"x": {"field": "k", "type": "nominal", "sort": ["Accuracy","Sensitivity","Specificity","PPV","NPV"]}, "y": {"field": "lo", "type": "quantitative", "axis": {"values": [0,0.05,0.1,0.15,0.2,0.25,0.3,0.35,0.4,0.45,0.5,0.55,0.6,0.65,0.7,0.75,0.8,0.85,0.9,0.95,1], "tickCount": 22, "labels": false, "ticks": false, "gridOpacity": {"condition": {"test": "datum.value < -0.01 || datum.value > 1.01", "value": 0}, "value": 1}, "gridWidth": {"condition": {"test": "round(datum.value*100) % 10 === 0", "value": 1.6}, "value": 1}, "title": null}}, "color": {"field": "s", "type": "nominal", "legend": null}}},
   {"mark": {"type": "tick", "size": 10, "thickness": 1}, "encoding": {"x": {"field": "k", "type": "nominal", "sort": ["Accuracy","Sensitivity","Specificity","PPV","NPV"]}, "y": {"field": "hi", "type": "quantitative", "axis": {"values": [0,0.05,0.1,0.15,0.2,0.25,0.3,0.35,0.4,0.45,0.5,0.55,0.6,0.65,0.7,0.75,0.8,0.85,0.9,0.95,1], "tickCount": 22, "labels": false, "ticks": false, "gridOpacity": {"condition": {"test": "datum.value < -0.01 || datum.value > 1.01", "value": 0}, "value": 1}, "gridWidth": {"condition": {"test": "round(datum.value*100) % 10 === 0", "value": 1.6}, "value": 1}, "title": null}}, "color": {"field": "s", "type": "nominal", "legend": null}}},
   {"mark": {"type": "point", "filled": true, "size": 75, "opacity": 1}, "encoding": {"x": {"field": "k", "type": "nominal", "sort": ["Accuracy","Sensitivity","Specificity","PPV","NPV"]}, "y": {"field": "v", "type": "quantitative", "axis": {"values": [0,0.05,0.1,0.15,0.2,0.25,0.3,0.35,0.4,0.45,0.5,0.55,0.6,0.65,0.7,0.75,0.8,0.85,0.9,0.95,1], "tickCount": 22, "labels": false, "ticks": false, "gridOpacity": {"condition": {"test": "datum.value < -0.01 || datum.value > 1.01", "value": 0}, "value": 1}, "gridWidth": {"condition": {"test": "round(datum.value*100) % 10 === 0", "value": 1.6}, "value": 1}, "title": null}}, "color": {"field": "s", "type": "nominal", "legend": null}}},
   {"mark": {"type": "rule", "strokeDash": [6, 4], "color": "#a6a6a6", "strokeWidth": 1.8}, "encoding": {"y": {"datum": 0.5, "axis": {"values": [0,0.05,0.1,0.15,0.2,0.25,0.3,0.35,0.4,0.45,0.5,0.55,0.6,0.65,0.7,0.75,0.8,0.85,0.9,0.95,1], "tickCount": 22, "labels": false, "ticks": false, "gridOpacity": {"condition": {"test": "datum.value < -0.01 || datum.value > 1.01", "value": 0}, "value": 1}, "gridWidth": {"condition": {"test": "round(datum.value*100) % 10 === 0", "value": 1.6}, "value": 1}, "title": null}}}}
  ]},
 {"width": 23, "height": 158, "view": {"fill": "#d9d9d9", "stroke": null}, "data": {"values": [{"t": "rsfMRI"}]}, "mark": {"type": "text", "angle": 90, "fontSize": 19, "color": "#1a1a1a"}, "encoding": {"text": {"field": "t"}}},

 {"width": 1, "height": 10, "data": {"values": [{}]}, "mark": {"type": "point", "opacity": 0}, "encoding": {}},
 {"width": 1, "height": 10, "data": {"values": [{}]}, "mark": {"type": "point", "opacity": 0}, "encoding": {}},
 {"width": 1, "height": 10, "data": {"values": [{}]}, "mark": {"type": "point", "opacity": 0}, "encoding": {}},
 {"width": 1, "height": 10, "data": {"values": [{}]}, "mark": {"type": "point", "opacity": 0}, "encoding": {}},
 {"width": 1, "height": 10, "data": {"values": [{}]}, "mark": {"type": "point", "opacity": 0}, "encoding": {}},
 {"width": 1, "height": 10, "data": {"values": [{}]}, "mark": {"type": "point", "opacity": 0}, "encoding": {}},

 {"width": 80, "height": 158, "view": {"fill": "#ebebeb", "stroke": null}, "data": {"name": "auc"},
  "transform": [{"filter": "datum.m==='SVM' && datum.d==='DTI'"}],
  "layer": [
   {"mark": {"type": "rule", "opacity": 0}, "encoding": {"x": {"field": "k", "type": "nominal", "scale": {"type": "point", "padding": 0.5}, "axis": {"title": null, "labels": false, "ticks": false, "gridWidth": 1.8}}}},
   {"layer": [
     {"mark": {"type": "bar", "stroke": "black", "strokeWidth": 1.5},
      "encoding": {"x": {"field": "s", "type": "nominal", "sort": ["ISMMS","Olin","BSNIP-1","BSNIP-2"], "scale": {"type": "band", "paddingInner": 0, "paddingOuter": 0.667}, "axis": null},
        "y": {"field": "v", "type": "quantitative", "scale": {"domain": [-0.05, 1.05], "nice": false, "zero": false}, "axis": {"values": [0,0.05,0.1,0.15,0.2,0.25,0.3,0.35,0.4,0.45,0.5,0.55,0.6,0.65,0.7,0.75,0.8,0.85,0.9,0.95,1], "tickCount": 22, "labelOverlap": false, "labelExpr": "round(datum.value*100) % 10 === 0 && datum.value > -0.01 && datum.value < 1.01 ? format(datum.value, '.1f') : ''", "tickOpacity": {"condition": {"test": "round(datum.value*100) % 10 === 0 && datum.value > -0.01 && datum.value < 1.01", "value": 1}, "value": 0}, "gridOpacity": {"condition": {"test": "datum.value < -0.01 || datum.value > 1.01", "value": 0}, "value": 1}, "gridWidth": {"condition": {"test": "round(datum.value*100) % 10 === 0", "value": 1.6}, "value": 1}, "title": "Fold-wise Average"}},
        "color": {"field": "s", "type": "nominal", "legend": null}}},
     {"mark": {"type": "rule", "color": "black", "strokeWidth": 1.5}, "encoding": {"x": {"field": "s", "type": "nominal", "sort": ["ISMMS","Olin","BSNIP-1","BSNIP-2"]}, "y": {"field": "lo", "type": "quantitative", "axis": {"values": [0,0.05,0.1,0.15,0.2,0.25,0.3,0.35,0.4,0.45,0.5,0.55,0.6,0.65,0.7,0.75,0.8,0.85,0.9,0.95,1], "tickCount": 22, "labelOverlap": false, "labelExpr": "round(datum.value*100) % 10 === 0 && datum.value > -0.01 && datum.value < 1.01 ? format(datum.value, '.1f') : ''", "tickOpacity": {"condition": {"test": "round(datum.value*100) % 10 === 0 && datum.value > -0.01 && datum.value < 1.01", "value": 1}, "value": 0}, "gridOpacity": {"condition": {"test": "datum.value < -0.01 || datum.value > 1.01", "value": 0}, "value": 1}, "gridWidth": {"condition": {"test": "round(datum.value*100) % 10 === 0", "value": 1.6}, "value": 1}, "title": "Fold-wise Average"}}, "y2": {"field": "hi"}}},
     {"mark": {"type": "tick", "color": "black", "thickness": 1.5, "size": 9}, "encoding": {"x": {"field": "s", "type": "nominal", "sort": ["ISMMS","Olin","BSNIP-1","BSNIP-2"]}, "y": {"field": "lo", "type": "quantitative", "axis": {"values": [0,0.05,0.1,0.15,0.2,0.25,0.3,0.35,0.4,0.45,0.5,0.55,0.6,0.65,0.7,0.75,0.8,0.85,0.9,0.95,1], "tickCount": 22, "labelOverlap": false, "labelExpr": "round(datum.value*100) % 10 === 0 && datum.value > -0.01 && datum.value < 1.01 ? format(datum.value, '.1f') : ''", "tickOpacity": {"condition": {"test": "round(datum.value*100) % 10 === 0 && datum.value > -0.01 && datum.value < 1.01", "value": 1}, "value": 0}, "gridOpacity": {"condition": {"test": "datum.value < -0.01 || datum.value > 1.01", "value": 0}, "value": 1}, "gridWidth": {"condition": {"test": "round(datum.value*100) % 10 === 0", "value": 1.6}, "value": 1}, "title": "Fold-wise Average"}}}},
     {"mark": {"type": "tick", "color": "black", "thickness": 1.5, "size": 9}, "encoding": {"x": {"field": "s", "type": "nominal", "sort": ["ISMMS","Olin","BSNIP-1","BSNIP-2"]}, "y": {"field": "hi", "type": "quantitative", "axis": {"values": [0,0.05,0.1,0.15,0.2,0.25,0.3,0.35,0.4,0.45,0.5,0.55,0.6,0.65,0.7,0.75,0.8,0.85,0.9,0.95,1], "tickCount": 22, "labelOverlap": false, "labelExpr": "round(datum.value*100) % 10 === 0 && datum.value > -0.01 && datum.value < 1.01 ? format(datum.value, '.1f') : ''", "tickOpacity": {"condition": {"test": "round(datum.value*100) % 10 === 0 && datum.value > -0.01 && datum.value < 1.01", "value": 1}, "value": 0}, "gridOpacity": {"condition": {"test": "datum.value < -0.01 || datum.value > 1.01", "value": 0}, "value": 1}, "gridWidth": {"condition": {"test": "round(datum.value*100) % 10 === 0", "value": 1.6}, "value": 1}, "title": "Fold-wise Average"}}}}
   ]},
   {"mark": {"type": "rule", "strokeDash": [6, 4], "color": "#a6a6a6", "strokeWidth": 1.8}, "encoding": {"y": {"datum": 0.5, "axis": {"values": [0,0.05,0.1,0.15,0.2,0.25,0.3,0.35,0.4,0.45,0.5,0.55,0.6,0.65,0.7,0.75,0.8,0.85,0.9,0.95,1], "tickCount": 22, "labelOverlap": false, "labelExpr": "round(datum.value*100) % 10 === 0 && datum.value > -0.01 && datum.value < 1.01 ? format(datum.value, '.1f') : ''", "tickOpacity": {"condition": {"test": "round(datum.value*100) % 10 === 0 && datum.value > -0.01 && datum.value < 1.01", "value": 1}, "value": 0}, "gridOpacity": {"condition": {"test": "datum.value < -0.01 || datum.value > 1.01", "value": 0}, "value": 1}, "gridWidth": {"condition": {"test": "round(datum.value*100) % 10 === 0", "value": 1.6}, "value": 1}, "title": "Fold-wise Average"}}}}
  ],
  "resolve": {"scale": {"x": "independent"}}},
 {"width": 356, "height": 158, "view": {"fill": "#ebebeb", "stroke": null}, "data": {"name": "met"},
  "transform": [{"filter": "datum.m==='SVM' && datum.d==='DTI'"}],
  "layer": [
   {"mark": {"type": "line", "strokeWidth": 1.2},
    "encoding": {"x": {"field": "k", "type": "nominal", "sort": ["Accuracy","Sensitivity","Specificity","PPV","NPV"], "scale": {"type": "point", "padding": 0.58}, "axis": {"title": null, "labels": false, "ticks": false, "gridWidth": 1.8}},
      "y": {"field": "v", "type": "quantitative", "scale": {"domain": [-0.05, 1.05], "nice": false, "zero": false}, "axis": {"values": [0,0.05,0.1,0.15,0.2,0.25,0.3,0.35,0.4,0.45,0.5,0.55,0.6,0.65,0.7,0.75,0.8,0.85,0.9,0.95,1], "tickCount": 22, "labels": false, "ticks": false, "gridOpacity": {"condition": {"test": "datum.value < -0.01 || datum.value > 1.01", "value": 0}, "value": 1}, "gridWidth": {"condition": {"test": "round(datum.value*100) % 10 === 0", "value": 1.6}, "value": 1}, "title": null}},
      "color": {"field": "s", "type": "nominal", "legend": null}}},
   {"mark": {"type": "rule", "strokeWidth": 1}, "encoding": {"x": {"field": "k", "type": "nominal", "sort": ["Accuracy","Sensitivity","Specificity","PPV","NPV"]}, "y": {"field": "lo", "type": "quantitative", "axis": {"values": [0,0.05,0.1,0.15,0.2,0.25,0.3,0.35,0.4,0.45,0.5,0.55,0.6,0.65,0.7,0.75,0.8,0.85,0.9,0.95,1], "tickCount": 22, "labels": false, "ticks": false, "gridOpacity": {"condition": {"test": "datum.value < -0.01 || datum.value > 1.01", "value": 0}, "value": 1}, "gridWidth": {"condition": {"test": "round(datum.value*100) % 10 === 0", "value": 1.6}, "value": 1}, "title": null}}, "y2": {"field": "hi"}, "color": {"field": "s", "type": "nominal", "legend": null}}},
   {"mark": {"type": "tick", "size": 10, "thickness": 1}, "encoding": {"x": {"field": "k", "type": "nominal", "sort": ["Accuracy","Sensitivity","Specificity","PPV","NPV"]}, "y": {"field": "lo", "type": "quantitative", "axis": {"values": [0,0.05,0.1,0.15,0.2,0.25,0.3,0.35,0.4,0.45,0.5,0.55,0.6,0.65,0.7,0.75,0.8,0.85,0.9,0.95,1], "tickCount": 22, "labels": false, "ticks": false, "gridOpacity": {"condition": {"test": "datum.value < -0.01 || datum.value > 1.01", "value": 0}, "value": 1}, "gridWidth": {"condition": {"test": "round(datum.value*100) % 10 === 0", "value": 1.6}, "value": 1}, "title": null}}, "color": {"field": "s", "type": "nominal", "legend": null}}},
   {"mark": {"type": "tick", "size": 10, "thickness": 1}, "encoding": {"x": {"field": "k", "type": "nominal", "sort": ["Accuracy","Sensitivity","Specificity","PPV","NPV"]}, "y": {"field": "hi", "type": "quantitative", "axis": {"values": [0,0.05,0.1,0.15,0.2,0.25,0.3,0.35,0.4,0.45,0.5,0.55,0.6,0.65,0.7,0.75,0.8,0.85,0.9,0.95,1], "tickCount": 22, "labels": false, "ticks": false, "gridOpacity": {"condition": {"test": "datum.value < -0.01 || datum.value > 1.01", "value": 0}, "value": 1}, "gridWidth": {"condition": {"test": "round(datum.value*100) % 10 === 0", "value": 1.6}, "value": 1}, "title": null}}, "color": {"field": "s", "type": "nominal", "legend": null}}},
   {"mark": {"type": "point", "filled": true, "size": 75, "opacity": 1}, "encoding": {"x": {"field": "k", "type": "nominal", "sort": ["Accuracy","Sensitivity","Specificity","PPV","NPV"]}, "y": {"field": "v", "type": "quantitative", "axis": {"values": [0,0.05,0.1,0.15,0.2,0.25,0.3,0.35,0.4,0.45,0.5,0.55,0.6,0.65,0.7,0.75,0.8,0.85,0.9,0.95,1], "tickCount": 22, "labels": false, "ticks": false, "gridOpacity": {"condition": {"test": "datum.value < -0.01 || datum.value > 1.01", "value": 0}, "value": 1}, "gridWidth": {"condition": {"test": "round(datum.value*100) % 10 === 0", "value": 1.6}, "value": 1}, "title": null}}, "color": {"field": "s", "type": "nominal", "legend": null}}},
   {"mark": {"type": "rule", "strokeDash": [6, 4], "color": "#a6a6a6", "strokeWidth": 1.8}, "encoding": {"y": {"datum": 0.5, "axis": {"values": [0,0.05,0.1,0.15,0.2,0.25,0.3,0.35,0.4,0.45,0.5,0.55,0.6,0.65,0.7,0.75,0.8,0.85,0.9,0.95,1], "tickCount": 22, "labels": false, "ticks": false, "gridOpacity": {"condition": {"test": "datum.value < -0.01 || datum.value > 1.01", "value": 0}, "value": 1}, "gridWidth": {"condition": {"test": "round(datum.value*100) % 10 === 0", "value": 1.6}, "value": 1}, "title": null}}}}
  ]},
 {"width": 17, "height": 1, "data": {"values": [{}]}, "mark": {"type": "point", "opacity": 0}, "encoding": {}},
 {"width": 81, "height": 158, "view": {"fill": "#ebebeb", "stroke": null}, "data": {"name": "auc"},
  "transform": [{"filter": "datum.m==='Ridge' && datum.d==='DTI'"}],
  "layer": [
   {"mark": {"type": "rule", "opacity": 0}, "encoding": {"x": {"field": "k", "type": "nominal", "scale": {"type": "point", "padding": 0.5}, "axis": {"title": null, "labels": false, "ticks": false, "gridWidth": 1.8}}}},
   {"layer": [
     {"mark": {"type": "bar", "stroke": "black", "strokeWidth": 1.5},
      "encoding": {"x": {"field": "s", "type": "nominal", "sort": ["ISMMS","Olin","BSNIP-1","BSNIP-2"], "scale": {"type": "band", "paddingInner": 0, "paddingOuter": 0.667}, "axis": null},
        "y": {"field": "v", "type": "quantitative", "scale": {"domain": [-0.05, 1.05], "nice": false, "zero": false}, "axis": {"values": [0,0.05,0.1,0.15,0.2,0.25,0.3,0.35,0.4,0.45,0.5,0.55,0.6,0.65,0.7,0.75,0.8,0.85,0.9,0.95,1], "tickCount": 22, "labels": false, "ticks": false, "gridOpacity": {"condition": {"test": "datum.value < -0.01 || datum.value > 1.01", "value": 0}, "value": 1}, "gridWidth": {"condition": {"test": "round(datum.value*100) % 10 === 0", "value": 1.6}, "value": 1}, "title": null}},
        "color": {"field": "s", "type": "nominal", "legend": null}}},
     {"mark": {"type": "rule", "color": "black", "strokeWidth": 1.5}, "encoding": {"x": {"field": "s", "type": "nominal", "sort": ["ISMMS","Olin","BSNIP-1","BSNIP-2"]}, "y": {"field": "lo", "type": "quantitative", "axis": {"values": [0,0.05,0.1,0.15,0.2,0.25,0.3,0.35,0.4,0.45,0.5,0.55,0.6,0.65,0.7,0.75,0.8,0.85,0.9,0.95,1], "tickCount": 22, "labels": false, "ticks": false, "gridOpacity": {"condition": {"test": "datum.value < -0.01 || datum.value > 1.01", "value": 0}, "value": 1}, "gridWidth": {"condition": {"test": "round(datum.value*100) % 10 === 0", "value": 1.6}, "value": 1}, "title": null}}, "y2": {"field": "hi"}}},
     {"mark": {"type": "tick", "color": "black", "thickness": 1.5, "size": 9}, "encoding": {"x": {"field": "s", "type": "nominal", "sort": ["ISMMS","Olin","BSNIP-1","BSNIP-2"]}, "y": {"field": "lo", "type": "quantitative", "axis": {"values": [0,0.05,0.1,0.15,0.2,0.25,0.3,0.35,0.4,0.45,0.5,0.55,0.6,0.65,0.7,0.75,0.8,0.85,0.9,0.95,1], "tickCount": 22, "labels": false, "ticks": false, "gridOpacity": {"condition": {"test": "datum.value < -0.01 || datum.value > 1.01", "value": 0}, "value": 1}, "gridWidth": {"condition": {"test": "round(datum.value*100) % 10 === 0", "value": 1.6}, "value": 1}, "title": null}}}},
     {"mark": {"type": "tick", "color": "black", "thickness": 1.5, "size": 9}, "encoding": {"x": {"field": "s", "type": "nominal", "sort": ["ISMMS","Olin","BSNIP-1","BSNIP-2"]}, "y": {"field": "hi", "type": "quantitative", "axis": {"values": [0,0.05,0.1,0.15,0.2,0.25,0.3,0.35,0.4,0.45,0.5,0.55,0.6,0.65,0.7,0.75,0.8,0.85,0.9,0.95,1], "tickCount": 22, "labels": false, "ticks": false, "gridOpacity": {"condition": {"test": "datum.value < -0.01 || datum.value > 1.01", "value": 0}, "value": 1}, "gridWidth": {"condition": {"test": "round(datum.value*100) % 10 === 0", "value": 1.6}, "value": 1}, "title": null}}}}
   ]},
   {"mark": {"type": "rule", "strokeDash": [6, 4], "color": "#a6a6a6", "strokeWidth": 1.8}, "encoding": {"y": {"datum": 0.5, "axis": {"values": [0,0.05,0.1,0.15,0.2,0.25,0.3,0.35,0.4,0.45,0.5,0.55,0.6,0.65,0.7,0.75,0.8,0.85,0.9,0.95,1], "tickCount": 22, "labels": false, "ticks": false, "gridOpacity": {"condition": {"test": "datum.value < -0.01 || datum.value > 1.01", "value": 0}, "value": 1}, "gridWidth": {"condition": {"test": "round(datum.value*100) % 10 === 0", "value": 1.6}, "value": 1}, "title": null}}}}
  ],
  "resolve": {"scale": {"x": "independent"}}},
 {"width": 360, "height": 158, "view": {"fill": "#ebebeb", "stroke": null}, "data": {"name": "met"},
  "transform": [{"filter": "datum.m==='Ridge' && datum.d==='DTI'"}],
  "layer": [
   {"mark": {"type": "line", "strokeWidth": 1.2},
    "encoding": {"x": {"field": "k", "type": "nominal", "sort": ["Accuracy","Sensitivity","Specificity","PPV","NPV"], "scale": {"type": "point", "padding": 0.58}, "axis": {"title": null, "labels": false, "ticks": false, "gridWidth": 1.8}},
      "y": {"field": "v", "type": "quantitative", "scale": {"domain": [-0.05, 1.05], "nice": false, "zero": false}, "axis": {"values": [0,0.05,0.1,0.15,0.2,0.25,0.3,0.35,0.4,0.45,0.5,0.55,0.6,0.65,0.7,0.75,0.8,0.85,0.9,0.95,1], "tickCount": 22, "labels": false, "ticks": false, "gridOpacity": {"condition": {"test": "datum.value < -0.01 || datum.value > 1.01", "value": 0}, "value": 1}, "gridWidth": {"condition": {"test": "round(datum.value*100) % 10 === 0", "value": 1.6}, "value": 1}, "title": null}},
      "color": {"field": "s", "type": "nominal", "legend": null}}},
   {"mark": {"type": "rule", "strokeWidth": 1}, "encoding": {"x": {"field": "k", "type": "nominal", "sort": ["Accuracy","Sensitivity","Specificity","PPV","NPV"]}, "y": {"field": "lo", "type": "quantitative", "axis": {"values": [0,0.05,0.1,0.15,0.2,0.25,0.3,0.35,0.4,0.45,0.5,0.55,0.6,0.65,0.7,0.75,0.8,0.85,0.9,0.95,1], "tickCount": 22, "labels": false, "ticks": false, "gridOpacity": {"condition": {"test": "datum.value < -0.01 || datum.value > 1.01", "value": 0}, "value": 1}, "gridWidth": {"condition": {"test": "round(datum.value*100) % 10 === 0", "value": 1.6}, "value": 1}, "title": null}}, "y2": {"field": "hi"}, "color": {"field": "s", "type": "nominal", "legend": null}}},
   {"mark": {"type": "tick", "size": 10, "thickness": 1}, "encoding": {"x": {"field": "k", "type": "nominal", "sort": ["Accuracy","Sensitivity","Specificity","PPV","NPV"]}, "y": {"field": "lo", "type": "quantitative", "axis": {"values": [0,0.05,0.1,0.15,0.2,0.25,0.3,0.35,0.4,0.45,0.5,0.55,0.6,0.65,0.7,0.75,0.8,0.85,0.9,0.95,1], "tickCount": 22, "labels": false, "ticks": false, "gridOpacity": {"condition": {"test": "datum.value < -0.01 || datum.value > 1.01", "value": 0}, "value": 1}, "gridWidth": {"condition": {"test": "round(datum.value*100) % 10 === 0", "value": 1.6}, "value": 1}, "title": null}}, "color": {"field": "s", "type": "nominal", "legend": null}}},
   {"mark": {"type": "tick", "size": 10, "thickness": 1}, "encoding": {"x": {"field": "k", "type": "nominal", "sort": ["Accuracy","Sensitivity","Specificity","PPV","NPV"]}, "y": {"field": "hi", "type": "quantitative", "axis": {"values": [0,0.05,0.1,0.15,0.2,0.25,0.3,0.35,0.4,0.45,0.5,0.55,0.6,0.65,0.7,0.75,0.8,0.85,0.9,0.95,1], "tickCount": 22, "labels": false, "ticks": false, "gridOpacity": {"condition": {"test": "datum.value < -0.01 || datum.value > 1.01", "value": 0}, "value": 1}, "gridWidth": {"condition": {"test": "round(datum.value*100) % 10 === 0", "value": 1.6}, "value": 1}, "title": null}}, "color": {"field": "s", "type": "nominal", "legend": null}}},
   {"mark": {"type": "point", "filled": true, "size": 75, "opacity": 1}, "encoding": {"x": {"field": "k", "type": "nominal", "sort": ["Accuracy","Sensitivity","Specificity","PPV","NPV"]}, "y": {"field": "v", "type": "quantitative", "axis": {"values": [0,0.05,0.1,0.15,0.2,0.25,0.3,0.35,0.4,0.45,0.5,0.55,0.6,0.65,0.7,0.75,0.8,0.85,0.9,0.95,1], "tickCount": 22, "labels": false, "ticks": false, "gridOpacity": {"condition": {"test": "datum.value < -0.01 || datum.value > 1.01", "value": 0}, "value": 1}, "gridWidth": {"condition": {"test": "round(datum.value*100) % 10 === 0", "value": 1.6}, "value": 1}, "title": null}}, "color": {"field": "s", "type": "nominal", "legend": null}}},
   {"mark": {"type": "rule", "strokeDash": [6, 4], "color": "#a6a6a6", "strokeWidth": 1.8}, "encoding": {"y": {"datum": 0.5, "axis": {"values": [0,0.05,0.1,0.15,0.2,0.25,0.3,0.35,0.4,0.45,0.5,0.55,0.6,0.65,0.7,0.75,0.8,0.85,0.9,0.95,1], "tickCount": 22, "labels": false, "ticks": false, "gridOpacity": {"condition": {"test": "datum.value < -0.01 || datum.value > 1.01", "value": 0}, "value": 1}, "gridWidth": {"condition": {"test": "round(datum.value*100) % 10 === 0", "value": 1.6}, "value": 1}, "title": null}}}}
  ]},
 {"width": 23, "height": 158, "view": {"fill": "#d9d9d9", "stroke": null}, "data": {"values": [{"t": "DTI"}]}, "mark": {"type": "text", "angle": 90, "fontSize": 19, "color": "#1a1a1a"}, "encoding": {"text": {"field": "t"}}},

 {"width": 1, "height": 10, "data": {"values": [{}]}, "mark": {"type": "point", "opacity": 0}, "encoding": {}},
 {"width": 1, "height": 10, "data": {"values": [{}]}, "mark": {"type": "point", "opacity": 0}, "encoding": {}},
 {"width": 1, "height": 10, "data": {"values": [{}]}, "mark": {"type": "point", "opacity": 0}, "encoding": {}},
 {"width": 1, "height": 10, "data": {"values": [{}]}, "mark": {"type": "point", "opacity": 0}, "encoding": {}},
 {"width": 1, "height": 10, "data": {"values": [{}]}, "mark": {"type": "point", "opacity": 0}, "encoding": {}},
 {"width": 1, "height": 10, "data": {"values": [{}]}, "mark": {"type": "point", "opacity": 0}, "encoding": {}},

 {"width": 80, "height": 158, "view": {"fill": "#ebebeb", "stroke": null}, "data": {"name": "auc"},
  "transform": [{"filter": "datum.m==='SVM' && datum.d==='rsfMRI + DTI'"}],
  "layer": [
   {"mark": {"type": "rule", "opacity": 0}, "encoding": {"x": {"field": "k", "type": "nominal", "scale": {"type": "point", "padding": 0.5}, "axis": {"title": null, "labels": true, "ticks": true, "gridWidth": 1.8}}}},
   {"layer": [
     {"mark": {"type": "bar", "stroke": "black", "strokeWidth": 1.5},
      "encoding": {"x": {"field": "s", "type": "nominal", "sort": ["ISMMS","Olin","BSNIP-1","BSNIP-2"], "scale": {"type": "band", "paddingInner": 0, "paddingOuter": 0.667}, "axis": null},
        "y": {"field": "v", "type": "quantitative", "scale": {"domain": [-0.05, 1.05], "nice": false, "zero": false}, "axis": {"values": [0,0.05,0.1,0.15,0.2,0.25,0.3,0.35,0.4,0.45,0.5,0.55,0.6,0.65,0.7,0.75,0.8,0.85,0.9,0.95,1], "tickCount": 22, "labelOverlap": false, "labelExpr": "round(datum.value*100) % 10 === 0 && datum.value > -0.01 && datum.value < 1.01 ? format(datum.value, '.1f') : ''", "tickOpacity": {"condition": {"test": "round(datum.value*100) % 10 === 0 && datum.value > -0.01 && datum.value < 1.01", "value": 1}, "value": 0}, "gridOpacity": {"condition": {"test": "datum.value < -0.01 || datum.value > 1.01", "value": 0}, "value": 1}, "gridWidth": {"condition": {"test": "round(datum.value*100) % 10 === 0", "value": 1.6}, "value": 1}, "title": null}},
        "color": {"field": "s", "type": "nominal", "legend": null}}},
     {"mark": {"type": "rule", "color": "black", "strokeWidth": 1.5}, "encoding": {"x": {"field": "s", "type": "nominal", "sort": ["ISMMS","Olin","BSNIP-1","BSNIP-2"]}, "y": {"field": "lo", "type": "quantitative", "axis": {"values": [0,0.05,0.1,0.15,0.2,0.25,0.3,0.35,0.4,0.45,0.5,0.55,0.6,0.65,0.7,0.75,0.8,0.85,0.9,0.95,1], "tickCount": 22, "labelOverlap": false, "labelExpr": "round(datum.value*100) % 10 === 0 && datum.value > -0.01 && datum.value < 1.01 ? format(datum.value, '.1f') : ''", "tickOpacity": {"condition": {"test": "round(datum.value*100) % 10 === 0 && datum.value > -0.01 && datum.value < 1.01", "value": 1}, "value": 0}, "gridOpacity": {"condition": {"test": "datum.value < -0.01 || datum.value > 1.01", "value": 0}, "value": 1}, "gridWidth": {"condition": {"test": "round(datum.value*100) % 10 === 0", "value": 1.6}, "value": 1}, "title": null}}, "y2": {"field": "hi"}}},
     {"mark": {"type": "tick", "color": "black", "thickness": 1.5, "size": 9}, "encoding": {"x": {"field": "s", "type": "nominal", "sort": ["ISMMS","Olin","BSNIP-1","BSNIP-2"]}, "y": {"field": "lo", "type": "quantitative", "axis": {"values": [0,0.05,0.1,0.15,0.2,0.25,0.3,0.35,0.4,0.45,0.5,0.55,0.6,0.65,0.7,0.75,0.8,0.85,0.9,0.95,1], "tickCount": 22, "labelOverlap": false, "labelExpr": "round(datum.value*100) % 10 === 0 && datum.value > -0.01 && datum.value < 1.01 ? format(datum.value, '.1f') : ''", "tickOpacity": {"condition": {"test": "round(datum.value*100) % 10 === 0 && datum.value > -0.01 && datum.value < 1.01", "value": 1}, "value": 0}, "gridOpacity": {"condition": {"test": "datum.value < -0.01 || datum.value > 1.01", "value": 0}, "value": 1}, "gridWidth": {"condition": {"test": "round(datum.value*100) % 10 === 0", "value": 1.6}, "value": 1}, "title": null}}}},
     {"mark": {"type": "tick", "color": "black", "thickness": 1.5, "size": 9}, "encoding": {"x": {"field": "s", "type": "nominal", "sort": ["ISMMS","Olin","BSNIP-1","BSNIP-2"]}, "y": {"field": "hi", "type": "quantitative", "axis": {"values": [0,0.05,0.1,0.15,0.2,0.25,0.3,0.35,0.4,0.45,0.5,0.55,0.6,0.65,0.7,0.75,0.8,0.85,0.9,0.95,1], "tickCount": 22, "labelOverlap": false, "labelExpr": "round(datum.value*100) % 10 === 0 && datum.value > -0.01 && datum.value < 1.01 ? format(datum.value, '.1f') : ''", "tickOpacity": {"condition": {"test": "round(datum.value*100) % 10 === 0 && datum.value > -0.01 && datum.value < 1.01", "value": 1}, "value": 0}, "gridOpacity": {"condition": {"test": "datum.value < -0.01 || datum.value > 1.01", "value": 0}, "value": 1}, "gridWidth": {"condition": {"test": "round(datum.value*100) % 10 === 0", "value": 1.6}, "value": 1}, "title": null}}}}
   ]},
   {"mark": {"type": "rule", "strokeDash": [6, 4], "color": "#a6a6a6", "strokeWidth": 1.8}, "encoding": {"y": {"datum": 0.5, "axis": {"values": [0,0.05,0.1,0.15,0.2,0.25,0.3,0.35,0.4,0.45,0.5,0.55,0.6,0.65,0.7,0.75,0.8,0.85,0.9,0.95,1], "tickCount": 22, "labelOverlap": false, "labelExpr": "round(datum.value*100) % 10 === 0 && datum.value > -0.01 && datum.value < 1.01 ? format(datum.value, '.1f') : ''", "tickOpacity": {"condition": {"test": "round(datum.value*100) % 10 === 0 && datum.value > -0.01 && datum.value < 1.01", "value": 1}, "value": 0}, "gridOpacity": {"condition": {"test": "datum.value < -0.01 || datum.value > 1.01", "value": 0}, "value": 1}, "gridWidth": {"condition": {"test": "round(datum.value*100) % 10 === 0", "value": 1.6}, "value": 1}, "title": null}}}}
  ],
  "resolve": {"scale": {"x": "independent"}}},
 {"width": 356, "height": 158, "view": {"fill": "#ebebeb", "stroke": null}, "data": {"name": "met"},
  "transform": [{"filter": "datum.m==='SVM' && datum.d==='rsfMRI + DTI'"}],
  "layer": [
   {"mark": {"type": "line", "strokeWidth": 1.2},
    "encoding": {"x": {"field": "k", "type": "nominal", "sort": ["Accuracy","Sensitivity","Specificity","PPV","NPV"], "scale": {"type": "point", "padding": 0.58}, "axis": {"title": null, "labels": true, "ticks": true, "gridWidth": 1.8}},
      "y": {"field": "v", "type": "quantitative", "scale": {"domain": [-0.05, 1.05], "nice": false, "zero": false}, "axis": {"values": [0,0.05,0.1,0.15,0.2,0.25,0.3,0.35,0.4,0.45,0.5,0.55,0.6,0.65,0.7,0.75,0.8,0.85,0.9,0.95,1], "tickCount": 22, "labels": false, "ticks": false, "gridOpacity": {"condition": {"test": "datum.value < -0.01 || datum.value > 1.01", "value": 0}, "value": 1}, "gridWidth": {"condition": {"test": "round(datum.value*100) % 10 === 0", "value": 1.6}, "value": 1}, "title": null}},
      "color": {"field": "s", "type": "nominal", "legend": null}}},
   {"mark": {"type": "rule", "strokeWidth": 1}, "encoding": {"x": {"field": "k", "type": "nominal", "sort": ["Accuracy","Sensitivity","Specificity","PPV","NPV"]}, "y": {"field": "lo", "type": "quantitative", "axis": {"values": [0,0.05,0.1,0.15,0.2,0.25,0.3,0.35,0.4,0.45,0.5,0.55,0.6,0.65,0.7,0.75,0.8,0.85,0.9,0.95,1], "tickCount": 22, "labels": false, "ticks": false, "gridOpacity": {"condition": {"test": "datum.value < -0.01 || datum.value > 1.01", "value": 0}, "value": 1}, "gridWidth": {"condition": {"test": "round(datum.value*100) % 10 === 0", "value": 1.6}, "value": 1}, "title": null}}, "y2": {"field": "hi"}, "color": {"field": "s", "type": "nominal", "legend": null}}},
   {"mark": {"type": "tick", "size": 10, "thickness": 1}, "encoding": {"x": {"field": "k", "type": "nominal", "sort": ["Accuracy","Sensitivity","Specificity","PPV","NPV"]}, "y": {"field": "lo", "type": "quantitative", "axis": {"values": [0,0.05,0.1,0.15,0.2,0.25,0.3,0.35,0.4,0.45,0.5,0.55,0.6,0.65,0.7,0.75,0.8,0.85,0.9,0.95,1], "tickCount": 22, "labels": false, "ticks": false, "gridOpacity": {"condition": {"test": "datum.value < -0.01 || datum.value > 1.01", "value": 0}, "value": 1}, "gridWidth": {"condition": {"test": "round(datum.value*100) % 10 === 0", "value": 1.6}, "value": 1}, "title": null}}, "color": {"field": "s", "type": "nominal", "legend": null}}},
   {"mark": {"type": "tick", "size": 10, "thickness": 1}, "encoding": {"x": {"field": "k", "type": "nominal", "sort": ["Accuracy","Sensitivity","Specificity","PPV","NPV"]}, "y": {"field": "hi", "type": "quantitative", "axis": {"values": [0,0.05,0.1,0.15,0.2,0.25,0.3,0.35,0.4,0.45,0.5,0.55,0.6,0.65,0.7,0.75,0.8,0.85,0.9,0.95,1], "tickCount": 22, "labels": false, "ticks": false, "gridOpacity": {"condition": {"test": "datum.value < -0.01 || datum.value > 1.01", "value": 0}, "value": 1}, "gridWidth": {"condition": {"test": "round(datum.value*100) % 10 === 0", "value": 1.6}, "value": 1}, "title": null}}, "color": {"field": "s", "type": "nominal", "legend": null}}},
   {"mark": {"type": "point", "filled": true, "size": 75, "opacity": 1}, "encoding": {"x": {"field": "k", "type": "nominal", "sort": ["Accuracy","Sensitivity","Specificity","PPV","NPV"]}, "y": {"field": "v", "type": "quantitative", "axis": {"values": [0,0.05,0.1,0.15,0.2,0.25,0.3,0.35,0.4,0.45,0.5,0.55,0.6,0.65,0.7,0.75,0.8,0.85,0.9,0.95,1], "tickCount": 22, "labels": false, "ticks": false, "gridOpacity": {"condition": {"test": "datum.value < -0.01 || datum.value > 1.01", "value": 0}, "value": 1}, "gridWidth": {"condition": {"test": "round(datum.value*100) % 10 === 0", "value": 1.6}, "value": 1}, "title": null}}, "color": {"field": "s", "type": "nominal", "legend": null}}},
   {"mark": {"type": "rule", "strokeDash": [6, 4], "color": "#a6a6a6", "strokeWidth": 1.8}, "encoding": {"y": {"datum": 0.5, "axis": {"values": [0,0.05,0.1,0.15,0.2,0.25,0.3,0.35,0.4,0.45,0.5,0.55,0.6,0.65,0.7,0.75,0.8,0.85,0.9,0.95,1], "tickCount": 22, "labels": false, "ticks": false, "gridOpacity": {"condition": {"test": "datum.value < -0.01 || datum.value > 1.01", "value": 0}, "value": 1}, "gridWidth": {"condition": {"test": "round(datum.value*100) % 10 === 0", "value": 1.6}, "value": 1}, "title": null}}}}
  ]},
 {"width": 17, "height": 1, "data": {"values": [{}]}, "mark": {"type": "point", "opacity": 0}, "encoding": {}},
 {"width": 81, "height": 158, "view": {"fill": "#ebebeb", "stroke": null}, "data": {"name": "auc"},
  "transform": [{"filter": "datum.m==='Ridge' && datum.d==='rsfMRI + DTI'"}],
  "layer": [
   {"mark": {"type": "rule", "opacity": 0}, "encoding": {"x": {"field": "k", "type": "nominal", "scale": {"type": "point", "padding": 0.5}, "axis": {"title": null, "labels": true, "ticks": true, "gridWidth": 1.8}}}},
   {"layer": [
     {"mark": {"type": "bar", "stroke": "black", "strokeWidth": 1.5},
      "encoding": {"x": {"field": "s", "type": "nominal", "sort": ["ISMMS","Olin","BSNIP-1","BSNIP-2"], "scale": {"type": "band", "paddingInner": 0, "paddingOuter": 0.667}, "axis": null},
        "y": {"field": "v", "type": "quantitative", "scale": {"domain": [-0.05, 1.05], "nice": false, "zero": false}, "axis": {"values": [0,0.05,0.1,0.15,0.2,0.25,0.3,0.35,0.4,0.45,0.5,0.55,0.6,0.65,0.7,0.75,0.8,0.85,0.9,0.95,1], "tickCount": 22, "labels": false, "ticks": false, "gridOpacity": {"condition": {"test": "datum.value < -0.01 || datum.value > 1.01", "value": 0}, "value": 1}, "gridWidth": {"condition": {"test": "round(datum.value*100) % 10 === 0", "value": 1.6}, "value": 1}, "title": null}},
        "color": {"field": "s", "type": "nominal", "legend": null}}},
     {"mark": {"type": "rule", "color": "black", "strokeWidth": 1.5}, "encoding": {"x": {"field": "s", "type": "nominal", "sort": ["ISMMS","Olin","BSNIP-1","BSNIP-2"]}, "y": {"field": "lo", "type": "quantitative", "axis": {"values": [0,0.05,0.1,0.15,0.2,0.25,0.3,0.35,0.4,0.45,0.5,0.55,0.6,0.65,0.7,0.75,0.8,0.85,0.9,0.95,1], "tickCount": 22, "labels": false, "ticks": false, "gridOpacity": {"condition": {"test": "datum.value < -0.01 || datum.value > 1.01", "value": 0}, "value": 1}, "gridWidth": {"condition": {"test": "round(datum.value*100) % 10 === 0", "value": 1.6}, "value": 1}, "title": null}}, "y2": {"field": "hi"}}},
     {"mark": {"type": "tick", "color": "black", "thickness": 1.5, "size": 9}, "encoding": {"x": {"field": "s", "type": "nominal", "sort": ["ISMMS","Olin","BSNIP-1","BSNIP-2"]}, "y": {"field": "lo", "type": "quantitative", "axis": {"values": [0,0.05,0.1,0.15,0.2,0.25,0.3,0.35,0.4,0.45,0.5,0.55,0.6,0.65,0.7,0.75,0.8,0.85,0.9,0.95,1], "tickCount": 22, "labels": false, "ticks": false, "gridOpacity": {"condition": {"test": "datum.value < -0.01 || datum.value > 1.01", "value": 0}, "value": 1}, "gridWidth": {"condition": {"test": "round(datum.value*100) % 10 === 0", "value": 1.6}, "value": 1}, "title": null}}}},
     {"mark": {"type": "tick", "color": "black", "thickness": 1.5, "size": 9}, "encoding": {"x": {"field": "s", "type": "nominal", "sort": ["ISMMS","Olin","BSNIP-1","BSNIP-2"]}, "y": {"field": "hi", "type": "quantitative", "axis": {"values": [0,0.05,0.1,0.15,0.2,0.25,0.3,0.35,0.4,0.45,0.5,0.55,0.6,0.65,0.7,0.75,0.8,0.85,0.9,0.95,1], "tickCount": 22, "labels": false, "ticks": false, "gridOpacity": {"condition": {"test": "datum.value < -0.01 || datum.value > 1.01", "value": 0}, "value": 1}, "gridWidth": {"condition": {"test": "round(datum.value*100) % 10 === 0", "value": 1.6}, "value": 1}, "title": null}}}}
   ]},
   {"mark": {"type": "rule", "strokeDash": [6, 4], "color": "#a6a6a6", "strokeWidth": 1.8}, "encoding": {"y": {"datum": 0.5, "axis": {"values": [0,0.05,0.1,0.15,0.2,0.25,0.3,0.35,0.4,0.45,0.5,0.55,0.6,0.65,0.7,0.75,0.8,0.85,0.9,0.95,1], "tickCount": 22, "labels": false, "ticks": false, "gridOpacity": {"condition": {"test": "datum.value < -0.01 || datum.value > 1.01", "value": 0}, "value": 1}, "gridWidth": {"condition": {"test": "round(datum.value*100) % 10 === 0", "value": 1.6}, "value": 1}, "title": null}}}}
  ],
  "resolve": {"scale": {"x": "independent"}}},
 {"width": 360, "height": 158, "view": {"fill": "#ebebeb", "stroke": null}, "data": {"name": "met"},
  "transform": [{"filter": "datum.m==='Ridge' && datum.d==='rsfMRI + DTI'"}],
  "layer": [
   {"mark": {"type": "line", "strokeWidth": 1.2},
    "encoding": {"x": {"field": "k", "type": "nominal", "sort": ["Accuracy","Sensitivity","Specificity","PPV","NPV"], "scale": {"type": "point", "padding": 0.58}, "axis": {"title": null, "labels": true, "ticks": true, "gridWidth": 1.8}},
      "y": {"field": "v", "type": "quantitative", "scale": {"domain": [-0.05, 1.05], "nice": false, "zero": false}, "axis": {"values": [0,0.05,0.1,0.15,0.2,0.25,0.3,0.35,0.4,0.45,0.5,0.55,0.6,0.65,0.7,0.75,0.8,0.85,0.9,0.95,1], "tickCount": 22, "labels": false, "ticks": false, "gridOpacity": {"condition": {"test": "datum.value < -0.01 || datum.value > 1.01", "value": 0}, "value": 1}, "gridWidth": {"condition": {"test": "round(datum.value*100) % 10 === 0", "value": 1.6}, "value": 1}, "title": null}},
      "color": {"field": "s", "type": "nominal", "legend": null}}},
   {"mark": {"type": "rule", "strokeWidth": 1}, "encoding": {"x": {"field": "k", "type": "nominal", "sort": ["Accuracy","Sensitivity","Specificity","PPV","NPV"]}, "y": {"field": "lo", "type": "quantitative", "axis": {"values": [0,0.05,0.1,0.15,0.2,0.25,0.3,0.35,0.4,0.45,0.5,0.55,0.6,0.65,0.7,0.75,0.8,0.85,0.9,0.95,1], "tickCount": 22, "labels": false, "ticks": false, "gridOpacity": {"condition": {"test": "datum.value < -0.01 || datum.value > 1.01", "value": 0}, "value": 1}, "gridWidth": {"condition": {"test": "round(datum.value*100) % 10 === 0", "value": 1.6}, "value": 1}, "title": null}}, "y2": {"field": "hi"}, "color": {"field": "s", "type": "nominal", "legend": null}}},
   {"mark": {"type": "tick", "size": 10, "thickness": 1}, "encoding": {"x": {"field": "k", "type": "nominal", "sort": ["Accuracy","Sensitivity","Specificity","PPV","NPV"]}, "y": {"field": "lo", "type": "quantitative", "axis": {"values": [0,0.05,0.1,0.15,0.2,0.25,0.3,0.35,0.4,0.45,0.5,0.55,0.6,0.65,0.7,0.75,0.8,0.85,0.9,0.95,1], "tickCount": 22, "labels": false, "ticks": false, "gridOpacity": {"condition": {"test": "datum.value < -0.01 || datum.value > 1.01", "value": 0}, "value": 1}, "gridWidth": {"condition": {"test": "round(datum.value*100) % 10 === 0", "value": 1.6}, "value": 1}, "title": null}}, "color": {"field": "s", "type": "nominal", "legend": null}}},
   {"mark": {"type": "tick", "size": 10, "thickness": 1}, "encoding": {"x": {"field": "k", "type": "nominal", "sort": ["Accuracy","Sensitivity","Specificity","PPV","NPV"]}, "y": {"field": "hi", "type": "quantitative", "axis": {"values": [0,0.05,0.1,0.15,0.2,0.25,0.3,0.35,0.4,0.45,0.5,0.55,0.6,0.65,0.7,0.75,0.8,0.85,0.9,0.95,1], "tickCount": 22, "labels": false, "ticks": false, "gridOpacity": {"condition": {"test": "datum.value < -0.01 || datum.value > 1.01", "value": 0}, "value": 1}, "gridWidth": {"condition": {"test": "round(datum.value*100) % 10 === 0", "value": 1.6}, "value": 1}, "title": null}}, "color": {"field": "s", "type": "nominal", "legend": null}}},
   {"mark": {"type": "point", "filled": true, "size": 75, "opacity": 1}, "encoding": {"x": {"field": "k", "type": "nominal", "sort": ["Accuracy","Sensitivity","Specificity","PPV","NPV"]}, "y": {"field": "v", "type": "quantitative", "axis": {"values": [0,0.05,0.1,0.15,0.2,0.25,0.3,0.35,0.4,0.45,0.5,0.55,0.6,0.65,0.7,0.75,0.8,0.85,0.9,0.95,1], "tickCount": 22, "labels": false, "ticks": false, "gridOpacity": {"condition": {"test": "datum.value < -0.01 || datum.value > 1.01", "value": 0}, "value": 1}, "gridWidth": {"condition": {"test": "round(datum.value*100) % 10 === 0", "value": 1.6}, "value": 1}, "title": null}}, "color": {"field": "s", "type": "nominal", "legend": null}}},
   {"mark": {"type": "rule", "strokeDash": [6, 4], "color": "#a6a6a6", "strokeWidth": 1.8}, "encoding": {"y": {"datum": 0.5, "axis": {"values": [0,0.05,0.1,0.15,0.2,0.25,0.3,0.35,0.4,0.45,0.5,0.55,0.6,0.65,0.7,0.75,0.8,0.85,0.9,0.95,1], "tickCount": 22, "labels": false, "ticks": false, "gridOpacity": {"condition": {"test": "datum.value < -0.01 || datum.value > 1.01", "value": 0}, "value": 1}, "gridWidth": {"condition": {"test": "round(datum.value*100) % 10 === 0", "value": 1.6}, "value": 1}, "title": null}}}}
  ]},
 {"width": 23, "height": 158, "view": {"fill": "#d9d9d9", "stroke": null}, "data": {"values": [{"t": "rsfMRI + DTI"}]}, "mark": {"type": "text", "angle": 90, "fontSize": 19, "color": "#1a1a1a"}, "encoding": {"text": {"field": "t"}}}
]
}
